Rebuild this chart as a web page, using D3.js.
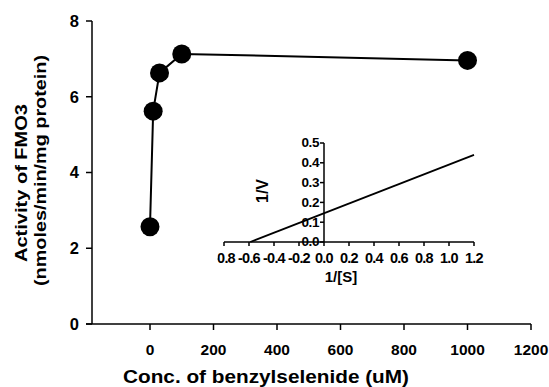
<!DOCTYPE html>
<html><head><meta charset="utf-8">
<script src="https://cdn.jsdelivr.net/npm/d3@7"></script>
<style>body{margin:0;background:#fff}text{font-family:"Liberation Sans",Arial,sans-serif;font-weight:bold;fill:#000}</style>
</head><body><svg id="c" width="549" height="387"></svg>
<script>
const concentrations = [0, 10, 30, 100, 1000];
const activity = [2.57, 5.62, 6.63, 7.13, 6.96];
const xTicks = [0, 200, 400, 600, 800, 1000, 1200];
const yTicks = [0, 2, 4, 6, 8];
const lbX = [-0.59, 1.2];
const lbY = [0, 0.44];
const insetXTicks = [-0.8, -0.6, -0.4, -0.2, 0.0, 0.2, 0.4, 0.6, 0.8, 1.0, 1.2];
const insetYTicks = [0.0, 0.1, 0.2, 0.3, 0.4, 0.5];

const svg = d3.select("#c");
const x = d3.scaleLinear().domain([-200, 1200]).range([86.5, 531]);
const y = d3.scaleLinear().domain([0, 8]).range([324, 21]);
const axisX = 92;

// x axis
const gx = svg.append("g").attr("transform", "translate(0,324)");
gx.append("line").attr("x1", 86).attr("x2", 531).attr("stroke", "#000").attr("stroke-width", 1.5);
gx.selectAll("g.t").data(xTicks).join("g").attr("transform", d => `translate(${x(d)},0)`).each(function(d){
  const g = d3.select(this);
  g.append("line").attr("y1", 0).attr("y2", 6).attr("stroke", "#000").attr("stroke-width", 1.5);
  g.append("text").attr("y", 31).attr("text-anchor", "middle").style("font-size", "15.5px").text(d);
});
// y axis
const gy = svg.append("g").attr("transform", `translate(${axisX},0)`);
gy.append("line").attr("y1", 21).attr("y2", 324).attr("stroke", "#000").attr("stroke-width", 1.5);
gy.selectAll("g.t").data(yTicks).join("g").attr("transform", d => `translate(0,${y(d)})`).each(function(d){
  const g = d3.select(this);
  g.append("line").attr("x1", -6).attr("x2", 0).attr("stroke", "#000").attr("stroke-width", 1.5);
  g.append("text").attr("x", -13).attr("dy", "0.36em").attr("text-anchor", "end").style("font-size", "16.5px").text(d);
});
// titles
svg.append("text").attr("x", 123).attr("y", 383).attr("textLength", 286).attr("lengthAdjust", "spacingAndGlyphs")
  .style("font-size", "18px").text("Conc. of benzylselenide (uM)");
svg.append("text").attr("transform", "translate(27,262) rotate(-90)").attr("textLength", 158).attr("lengthAdjust", "spacingAndGlyphs")
  .style("font-size", "16.5px").text("Activity of FMO3");
svg.append("text").attr("transform", "translate(46,286) rotate(-90)").attr("textLength", 231).attr("lengthAdjust", "spacingAndGlyphs")
  .style("font-size", "16.5px").text("(nmoles/min/mg protein)");

// data line and points
const pts = concentrations.map((c, i) => [c, activity[i]]);
svg.append("path").datum(pts).attr("d", d3.line().x(d => x(d[0])).y(d => y(d[1])))
  .attr("fill", "none").attr("stroke", "#000").attr("stroke-width", 2);
svg.selectAll("circle.p").data(pts).join("circle").attr("cx", d => x(d[0])).attr("cy", d => y(d[1])).attr("r", 9.5).attr("fill", "#000");

// inset
const ix = d3.scaleLinear().domain([-0.8, 1.2]).range([224, 474]);
const iy = d3.scaleLinear().domain([0, 0.5]).range([242, 143]);
svg.append("defs").append("clipPath").attr("id", "clip").append("rect").attr("x", 217.5).attr("y", 0).attr("width", 400).attr("height", 400);
const ig = svg.append("g");
ig.append("line").attr("x1", 224).attr("x2", 474).attr("y1", 242).attr("y2", 242).attr("stroke", "#000").attr("stroke-width", 1.5);
const ixl = ig.append("g").attr("clip-path", "url(#clip)");
insetXTicks.forEach(d => {
  ig.append("line").attr("x1", ix(d)).attr("x2", ix(d)).attr("y1", 242).attr("y2", 246).attr("stroke", "#000").attr("stroke-width", 1.5);
  ixl.append("text").attr("x", ix(d)).attr("y", 263).attr("text-anchor", "middle").style("font-size", "14.5px").style("letter-spacing", "-0.8px").text(d.toFixed(1));
});
ig.append("line").attr("x1", ix(0)).attr("x2", ix(0)).attr("y1", 143).attr("y2", 242).attr("stroke", "#000").attr("stroke-width", 1.5);
insetYTicks.forEach(d => {
  ig.append("line").attr("x1", ix(0) - 4).attr("x2", ix(0)).attr("y1", iy(d)).attr("y2", iy(d)).attr("stroke", "#000").attr("stroke-width", 1.5);
  ig.append("text").attr("x", ix(0) - 5).attr("y", iy(d)).attr("dy", "0.32em").attr("text-anchor", "end").style("font-size", "13.5px").style("letter-spacing", "-0.4px").text(d.toFixed(1));
});
ig.append("path").datum(lbX.map((v, i) => [v, lbY[i]])).attr("d", d3.line().x(d => ix(d[0])).y(d => iy(d[1])))
  .attr("fill", "none").attr("stroke", "#000").attr("stroke-width", 1.8);
ig.append("text").attr("x", 341).attr("y", 282).attr("text-anchor", "middle").style("font-size", "15px").text("1/[S]");
ig.append("text").attr("transform", "translate(268,191) rotate(-90)").attr("text-anchor", "middle").style("font-size", "16px").text("1/V");
</script></body></html>
